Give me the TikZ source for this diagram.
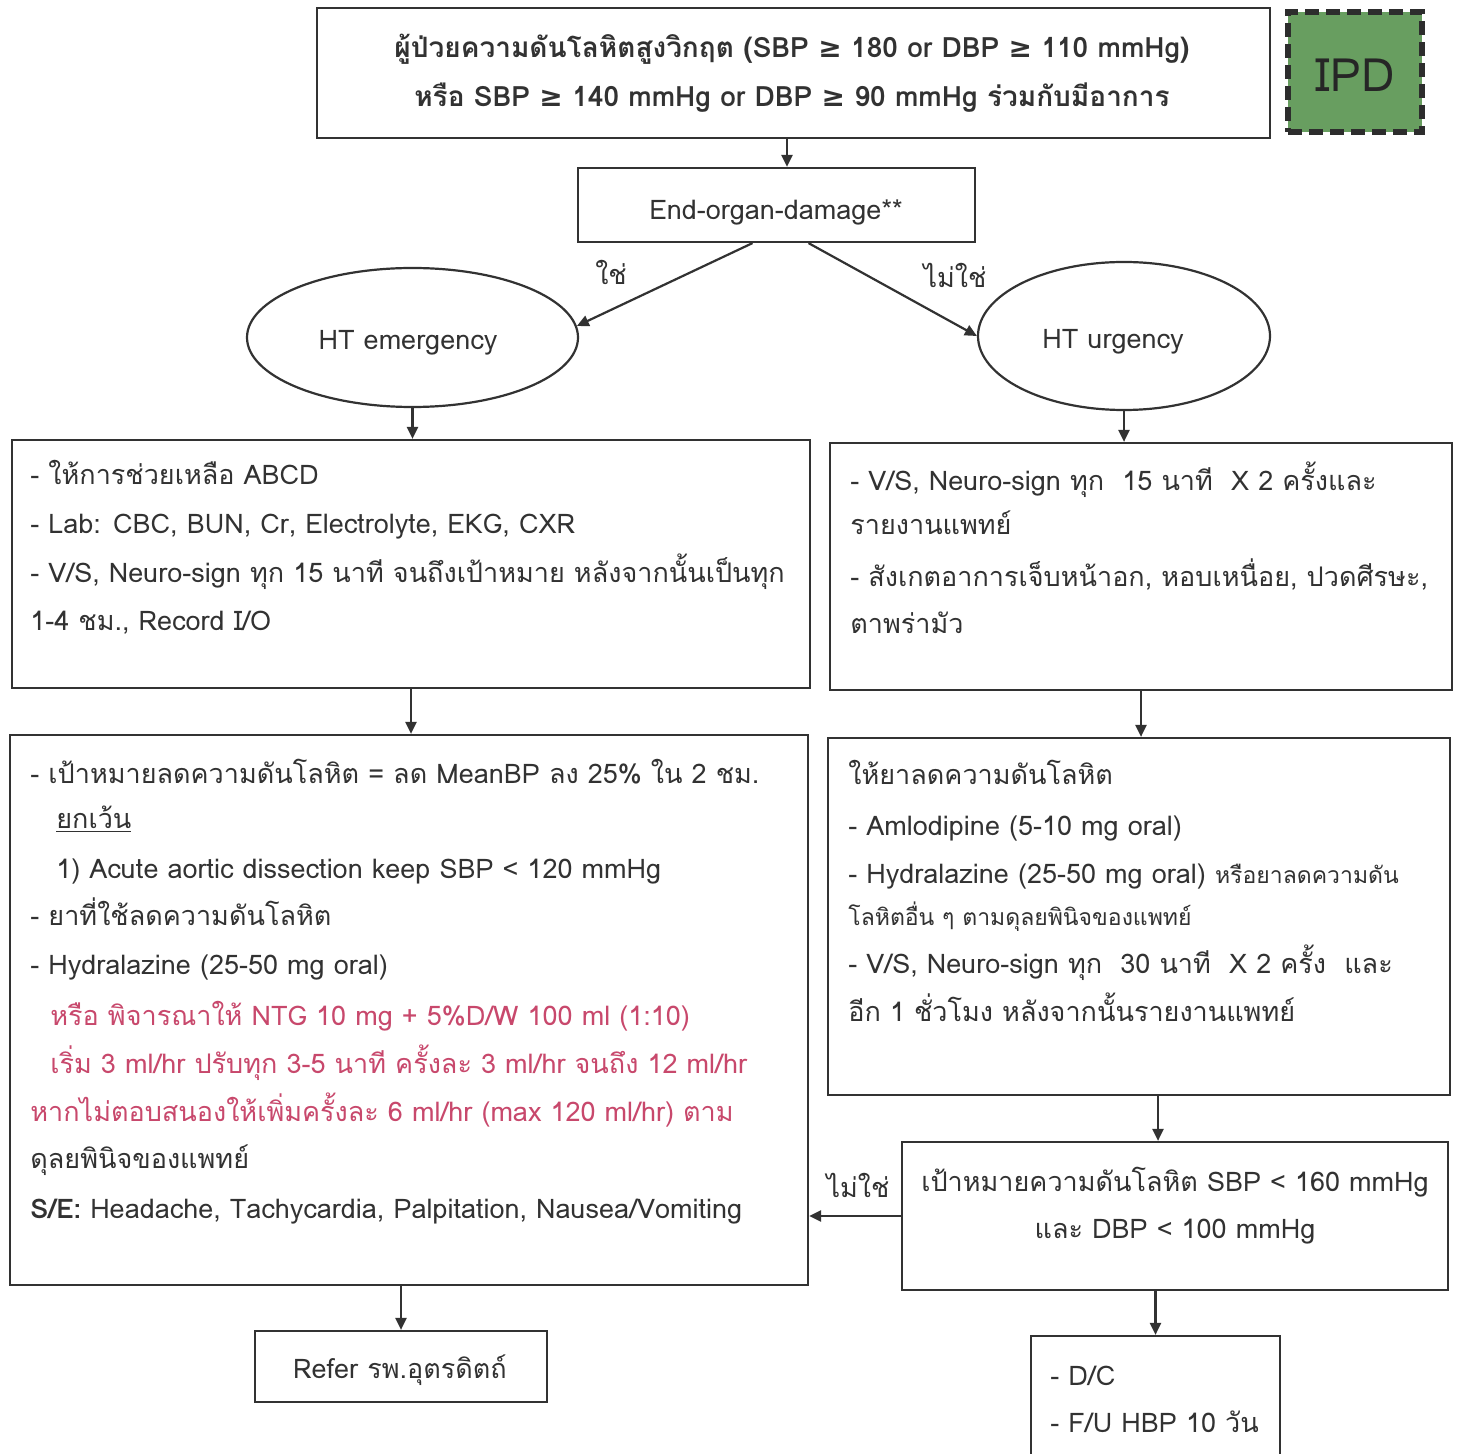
\documentclass[tikz,border=0pt]{standalone}
\usepackage{fontspec}
\setmainfont[Script=Thai]{Loma}
\newfontfamily\symf{DejaVu Sans}
\usetikzlibrary{arrows.meta,shapes.geometric,fit,calc}
\definecolor{ink}{RGB}{50,50,50}
\definecolor{alert}{RGB}{200,72,108}
\definecolor{ipdgreen}{RGB}{104,158,96}
\newcommand{\gtq}{{\symf ≥}}
\begin{document}
\begin{tikzpicture}[x=0.5pt,y=-0.5pt,
  box/.style={draw=ink, line width=1.1pt, inner sep=0pt},
  arr/.style={draw=ink, line width=1.1pt, -{Triangle[length=6pt,width=5.5pt]}},
  txt/.style={text=ink, font=\fontsize{13.5}{24}\selectfont, inner sep=0pt},
  lft/.style={txt, anchor=base west},
  ctr/.style={txt, anchor=base},
  red/.style={text=alert}]
\useasboundingbox (0,0) rectangle (1462,1454);
\clip (0,0) rectangle (1462,1454);
\fill[white] (0,0) rectangle (1462,1454);

% ---- boxes ----
\node[box, fit={(317,8) (1270,138)}] (top) {};
\node[box, fit={(578,168) (975,242)}] (eod) {};
\node[box, ellipse, minimum width=165.5pt, minimum height=69.5pt] (emg) at (412.5,337.5) {};
\node[box, ellipse, minimum width=146pt, minimum height=74pt] (urg) at (1124,336) {};
\node[box, fit={(12,440) (810,688)}] (L1) {};
\node[box, fit={(830,443) (1452,690)}] (R1) {};
\node[box, fit={(10,735) (808,1285)}] (L2) {};
\node[box, fit={(828,738) (1450,1095)}] (R2) {};
\node[box, fit={(902,1142) (1448,1290)}] (R3) {};
\node[box, fit={(255,1331) (547,1402)}] (refer) {};
\node[box, fit={(1031,1336) (1280,1480)}] (dc) {};

% ---- IPD tag ----
\node[draw=ink!90!black, fill=ipdgreen, line width=2.6pt, dash pattern=on 7pt off 3.5pt,
      fit={(1288,12) (1422,132)}, inner sep=0pt] (ipd) {};
\node[txt, font=\fontsize{23}{23}\selectfont, text=black!85, anchor=base] (ipdt) at (1355,92) {IPD};

% ---- texts ----
\node[ctr, font=\bfseries\fontsize{14}{24}\selectfont] (topa) at (792,58)
  {ผู้ป่วยความดันโลหิตสูงวิกฤต (SBP \gtq{} 180 or DBP \gtq{} 110 mmHg)};
\node[ctr, font=\bfseries\fontsize{14}{24}\selectfont] (topb) at (792,107)
  {หรือ SBP \gtq{} 140 mmHg or DBP \gtq{} 90 mmHg ร่วมกับมีอาการ};
\node[ctr] (eodt) at (776,220) {End-organ-damage**};
\node[ctr] (emgt) at (408,350) {HT emergency};
\node[ctr] (urgt) at (1113,349) {HT urgency};
\node[ctr] (yes) at (611,285) {ใช่};
\node[ctr] (no) at (955,288) {ไม่ใช่};
\node[ctr] (no2) at (858,1197) {ไม่ใช่};

\node[lft] (l1a) at (30,485) {- ให้การช่วยเหลือ ABCD};
\node[lft] (l1b) at (30,534) {- Lab: CBC, BUN, Cr, Electrolyte, EKG, CXR};
\node[lft] (l1c) at (30,583) {- V/S, Neuro-sign ทุก 15 นาที จนถึงเป้าหมาย หลังจากนั้นเป็นทุก};
\node[lft] (l1d) at (30,631) {1-4 ชม., Record I/O};

\node[lft] (r1a) at (850,491) {- V/S, Neuro-sign ทุก\ \ 15 นาที\ \ X 2 ครั้งและ};
\node[lft] (r1b) at (850,535) {รายงานแพทย์};
\node[lft] (r1c) at (850,587) {- สังเกตอาการเจ็บหน้าอก, หอบเหนื่อย, ปวดศีรษะ,};
\node[lft] (r1d) at (850,634) {ตาพร่ามัว};

\node[lft] (l2a) at (30,783) {- เป้าหมายลดความดันโลหิต = ลด MeanBP ลง 25\% ใน 2 ชม.};
\node[lft] (l2b) at (56,828) {\underline{ยกเว้น}};
\node[lft] (l2c) at (56,878) {1) Acute aortic dissection keep SBP < 120 mmHg};
\node[lft] (l2d) at (30,925) {- ยาที่ใช้ลดความดันโลหิต};
\node[lft] (l2e) at (30,974) {- Hydralazine (25-50 mg oral)};
\node[lft, red] (l2f) at (50,1025) {หรือ พิจารณาให้ NTG 10 mg + 5\%D/W 100 ml (1:10)};
\node[lft, red] (l2g) at (50,1073) {เริ่ม 3 ml/hr ปรับทุก 3-5 นาที ครั้งละ 3 ml/hr จนถึง 12 ml/hr};
\node[lft, red] (l2h) at (30,1121) {หากไม่ตอบสนองให้เพิ่มครั้งละ 6 ml/hr (max 120 ml/hr) ตาม};
\node[lft] (l2i) at (30,1168) {ดุลยพินิจของแพทย์};
\node[lft] (l2j) at (30,1218) {\textbf{S/E:} Headache, Tachycardia, Palpitation, Nausea/Vomiting};

\node[lft] (r2a) at (848,784) {ให้ยาลดความดันโลหิต};
\node[lft] (r2b) at (848,835) {- Amlodipine (5-10 mg oral)};
\node[lft] (r2c) at (848,883) {- Hydralazine (25-50 mg oral) {\fontsize{11.5}{14}\selectfont หรือยาลดความดัน}};
\node[lft, font=\fontsize{11.5}{14}\selectfont] (r2d) at (848,925) {โลหิตอื่น ๆ ตามดุลยพินิจของแพทย์};
\node[lft] (r2e) at (848,973) {- V/S, Neuro-sign ทุก\ \ 30 นาที\ \ X 2 ครั้ง\ \ และ};
\node[lft] (r2f) at (848,1021) {อีก 1 ชั่วโมง หลังจากนั้นรายงานแพทย์};

\node[ctr] (r3a) at (1175,1191) {เป้าหมายความดันโลหิต SBP < 160 mmHg};
\node[ctr] (r3b) at (1175,1238) {และ DBP < 100 mmHg};

\node[ctr] (refert) at (400,1378) {Refer รพ.อุตรดิตถ์};
\node[lft] (dca) at (1050,1385) {- D/C};
\node[lft] (dcb) at (1050,1432) {- F/U HBP 10 วัน};

% ---- connectors ----
\draw[arr] (top.south -| 787,0) -- (eod.north -| 787,0);
\draw[arr] ($(eod.south)+(-24,0)$) -- (emg.4);
\draw[arr] ($(eod.south)+(32,0)$) -- (urg.west);
\draw[arr] (emg.south) -- (emg.south |- L1.north);
\draw[arr] (urg.south) -- (urg.south |- R1.north);
\draw[arr] (L1.south) -- (L1.south |- L2.north);
\draw[arr] (R1.south) -- (R1.south |- R2.north);
\coordinate (r2out) at ($(R2.south)+(19,0)$);
\draw[arr] (r2out) -- (r2out |- R3.north);
\draw[arr] (R3.west) -- (R3.west -| L2.east);
\draw[arr] (refer.north |- L2.south) -- (refer.north);
\draw[arr] (dc.north |- R3.south) -- (dc.north);
\end{tikzpicture}
\end{document}
